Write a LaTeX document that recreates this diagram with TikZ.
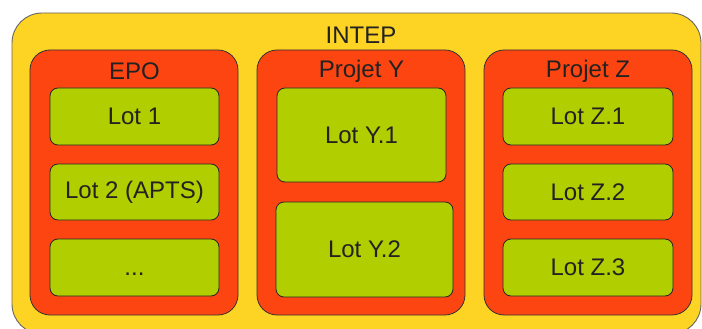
\documentclass[tikz,border=0pt]{standalone}
\usepackage{fontspec}
\setmainfont{Liberation Sans}
\definecolor{yellowbg}{HTML}{FDD324}
\definecolor{redbox}{HTML}{FD4511}
\definecolor{greenbox}{HTML}{B0CE00}
\definecolor{ink}{HTML}{222222}
\begin{document}
\begin{tikzpicture}[x=1pt,y=-1pt,
  every node/.style={inner sep=0pt,outer sep=0pt,text=ink,font=\fontsize{24}{28}\selectfont},
  outerbox/.style={draw=black!60,line width=0.9pt,fill=yellowbg,rounded corners=30pt},
  groupbox/.style={draw=black!80,line width=0.8pt,fill=redbox,rounded corners=20pt},
  lotbox/.style={draw=black!85,line width=0.8pt,fill=greenbox,rounded corners=8pt},
  title/.style={anchor=center}]
\useasboundingbox (0,0) rectangle (702,329);
\clip (0,0) rectangle (702,329);
\fill[white] (0,0) rectangle (702,329);

% outer container
\node[outerbox,minimum width=689pt,minimum height=321pt] (intep) at (356.5,173.5) {};
\node[title] (intepT) at (361,35) {INTEP};

% project groups
\node[groupbox,minimum width=208pt,minimum height=265pt] (epo) at (134,182.5) {};
\node[groupbox,minimum width=208pt,minimum height=265pt] (projy) at (361,182.5) {};
\node[groupbox,minimum width=208pt,minimum height=265pt] (projz) at (588,182.5) {};
\node[title] (epoT) at (134.5,71) {EPO};
\node[title] (projyT) at (361.5,71) {Projet Y};
\node[title] (projzT) at (588,71) {Projet Z};

% EPO lots
\node[lotbox,minimum width=169pt,minimum height=57pt] (lot1) at (134.5,116.5) {Lot 1};
\node[lotbox,minimum width=169pt,minimum height=56pt] (lot2) at (134.5,192) {Lot 2 (APTS)};
\node[lotbox,minimum width=169pt,minimum height=57pt] (lot3) at (134.5,267.5) {\vphantom{Lot}...};

% Projet Y lots
\node[lotbox,minimum width=169pt,minimum height=94pt] (lotY1) at (361.5,135) {Lot Y.1};
\node[lotbox,minimum width=177pt,minimum height=95pt] (lotY2) at (364.5,249.5) {Lot Y.2};

% Projet Z lots
\node[lotbox,minimum width=170pt,minimum height=57pt] (lotZ1) at (588,116.5) {Lot Z.1};
\node[lotbox,minimum width=170pt,minimum height=56pt] (lotZ2) at (588,192) {Lot Z.2};
\node[lotbox,minimum width=170pt,minimum height=57pt] (lotZ3) at (588,267.5) {Lot Z.3};
\end{tikzpicture}
\end{document}
